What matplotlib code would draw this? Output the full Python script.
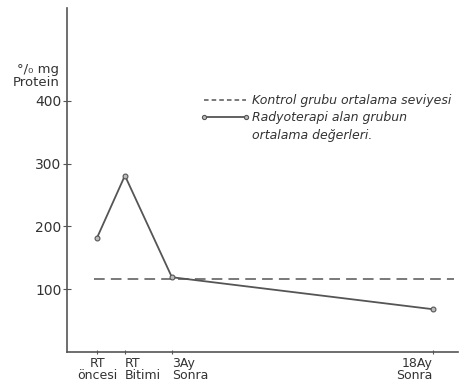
import matplotlib.pyplot as plt
from matplotlib.lines import Line2D

# time axis (months, roughly as drawn) and values
months = [-1.3, 0.3, 3, 18]
tick_labels = ['RT\nöncesi', 'RT\nBitimi', '3Ay\nSonra', '18Ay\nSonra']
tick_align = ['center', 'left', 'left', 'right']
protein = [182, 281, 119, 68]
control_level = 116
y_ticks = [100, 200, 300, 400]

ink = '#555555'
txt = '#333333'

fig = plt.figure(figsize=(4.65, 3.85), dpi=100)
ax = fig.add_axes([0.144, 0.086, 0.841, 0.893])

ax.axhline(control_level, xmin=0.07, xmax=0.99, color=ink, ls=(0, (7, 4)), lw=1.1)
ax.plot(months, protein, color=ink, lw=1.3, marker='o', ms=3.5,
        mfc='#bbbbbb', mec=ink, mew=0.8)

ax.set_xlim(-3.03, 19.44)
ax.set_ylim(0, 548)

for s in ['top', 'right']:
    ax.spines[s].set_visible(False)
for s in ['left', 'bottom']:
    ax.spines[s].set_color(ink)
    ax.spines[s].set_linewidth(1.2)

ax.set_yticks(y_ticks)
ax.set_yticklabels([str(v) for v in y_ticks], fontsize=10, color=txt)
ax.tick_params(axis='y', direction='inout', length=6, color=ink, pad=1)
ax.set_xticks(months)
ax.set_xticklabels(tick_labels, fontsize=9, color=txt, linespacing=0.95)
for lab, ha in zip(ax.get_xticklabels(), tick_align):
    lab.set_ha(ha)
ax.tick_params(axis='x', direction='inout', length=3, color=ink, pad=2)

ax.text(-0.02, 0.765, '°/₀ mg\nProtein', transform=ax.transAxes, ha='right',
        va='bottom', fontsize=9.5, color=txt, linespacing=1.0)

handles = [Line2D([], [], color=ink, ls=(0, (3, 2)), lw=1.1),
           Line2D([], [], color=ink, lw=1.3, marker='o', ms=3,
                  mfc='#bbbbbb', mec=ink, mew=0.8),
           Line2D([], [], color='none')]
labels = ['Kontrol grubu ortalama seviyesi',
          'Radyoterapi alan grubun',
          'ortalama değerleri.']
leg = ax.legend(handles, labels, numpoints=2, loc='upper left',
                bbox_to_anchor=(0.34, 0.75), frameon=False, borderpad=0,
                borderaxespad=0, handlelength=4.0, handletextpad=0.2,
                labelspacing=0.35, prop={'size': 9, 'style': 'italic'})
for t in leg.get_texts():
    t.set_color(txt)

plt.savefig('out.png', dpi=100)
